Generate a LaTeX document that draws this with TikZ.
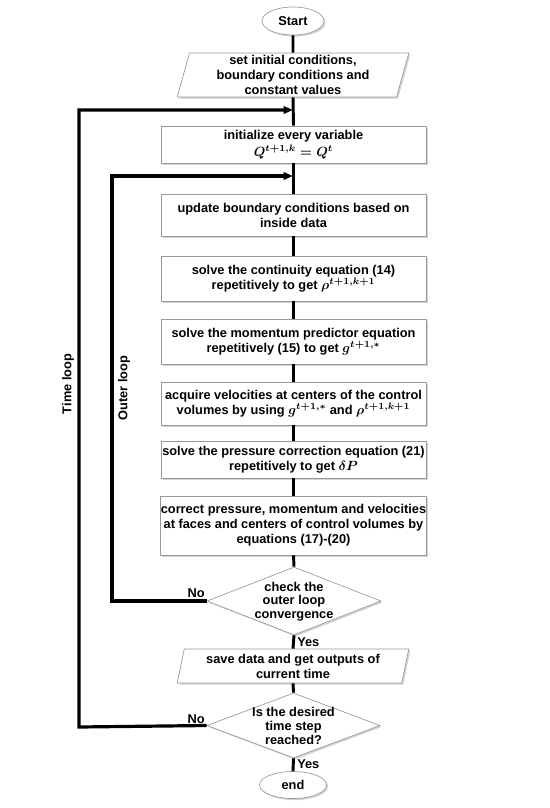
\documentclass[tikz,border=0pt]{standalone}
\usepackage{fontspec}
\setmainfont{Liberation Sans}
\usetikzlibrary{shapes.geometric,shadows,arrows.meta}
\begin{document}
\begin{tikzpicture}[x=0.75pt,y=-0.75pt,
  every node/.style={font=\fontsize{9.6}{11.2}\selectfont\bfseries\boldmath, align=center, inner sep=0pt},
  boxed/.style={draw=black!40, line width=0.5pt, fill=white, drop shadow={shadow xshift=1.2pt, shadow yshift=-1.2pt, opacity=0.35}},
  procbox/.style={boxed, rectangle, minimum width=265*0.75pt},
  iobox/.style={boxed, trapezium, trapezium left angle=77, trapezium right angle=103, trapezium stretches=true, minimum width=232*0.75pt},
  decbox/.style={boxed, diamond, shape aspect=2.6},
  dectext/.style={font=\fontsize{9.6}{10.2}\selectfont\bfseries},
  termbox/.style={boxed, ellipse},
  flow/.style={line width=2.2pt, black},
  loopline/.style={line width=2.4pt, black, -{Triangle[length=7pt,width=5.5pt]}},
  lbl/.style={font=\fontsize{9.6}{11.2}\selectfont\bfseries}
]
\useasboundingbox (0,0) rectangle (550,808);

\node[termbox, minimum width=62*0.75pt, minimum height=28*0.75pt] (start) at (293,21) {Start};
\node[iobox, minimum height=44*0.75pt] (init) at (293,75) {set initial conditions,\\boundary conditions and\\constant values};
\node[procbox, minimum height=37*0.75pt] (initvar) at (293.5,144.5) {initialize every variable\\[2pt] $Q^{t+1,k}=Q^{t}$};
\node[procbox, minimum height=42*0.75pt] (update) at (293.5,215) {update boundary conditions based on\\inside data};
\node[procbox, minimum height=45*0.75pt] (cont) at (293.5,278.5) {solve the continuity equation (14)\\repetitively to get $\rho^{t+1,k+1}$};
\node[procbox, minimum height=45*0.75pt] (mom) at (293.5,341.5) {solve the momentum predictor equation\\repetitively (15) to get $g^{t+1,*}$};
\node[procbox, minimum height=43*0.75pt] (acq) at (293.5,403.5) {acquire velocities at centers of the control\\volumes by using $g^{t+1,*}$ and $\rho^{t+1,k+1}$};
\node[procbox, minimum height=37*0.75pt] (press) at (293.5,459.5) {solve the pressure correction equation (21)\\repetitively to get $\delta P$};
\node[procbox, minimum height=59*0.75pt] (corr) at (293.5,525.5) {correct pressure, momentum and velocities\\at faces and centers of control volumes by\\equations (17)-(20)};
\node[decbox, minimum width=174*0.75pt, minimum height=68*0.75pt] (dec1) at (294,601) {};
\node[dectext] (dec1text) at (294,601.5) {check the\\outer loop\\convergence};
\node[iobox, minimum height=34*0.75pt] (save) at (293,666) {save data and get outputs of\\current time};
\node[decbox, minimum width=173*0.75pt, minimum height=65*0.75pt] (dec2) at (293.5,725.5) {};
\node[dectext] (dec2text) at (293.5,726) {Is the desired\\time step\\reached?};
\node[termbox, minimum width=67*0.75pt, minimum height=27*0.75pt] (finish) at (293,785) {end};

\coordinate (tl1) at (79,727);
\coordinate (tl2) at (79,110);
\coordinate (tl3) at (293,110);
\coordinate (ol1) at (112,601);
\coordinate (ol2) at (112,176);
\coordinate (ol3) at (293,176);

\draw[flow] (start.south) -- (init.north);
\draw[flow] (init.south) -- (initvar.north);
\draw[flow] (initvar.south) -- (update.north);
\draw[flow] (update.south) -- (cont.north);
\draw[flow] (cont.south) -- (mom.north);
\draw[flow] (mom.south) -- (acq.north);
\draw[flow] (acq.south) -- (press.north);
\draw[flow] (press.south) -- (corr.north);
\draw[flow] (corr.south) -- (dec1.north);
\draw[flow] (dec1.south) -- (save.north);
\draw[flow] (save.south) -- (dec2.north);
\draw[flow] (dec2.south) -- (finish.north);

\draw[loopline] (dec2.west) -- (tl1) -- (tl2) -- (tl3);
\draw[loopline] (dec1.west) -- (ol1) -- (ol2) -- (ol3);

\node[lbl, anchor=south east] (no1) at (205,598) {No};
\node[lbl, anchor=south east] (no2) at (205,724) {No};
\node[lbl, anchor=west] (yes1) at (297,642) {Yes};
\node[lbl, anchor=west] (yes2) at (297,764) {Yes};

\node[lbl, rotate=90] (tlabel) at (68,384) {Time loop};
\node[lbl, rotate=90] (olabel) at (124,388) {Outer loop};
\end{tikzpicture}
\end{document}
